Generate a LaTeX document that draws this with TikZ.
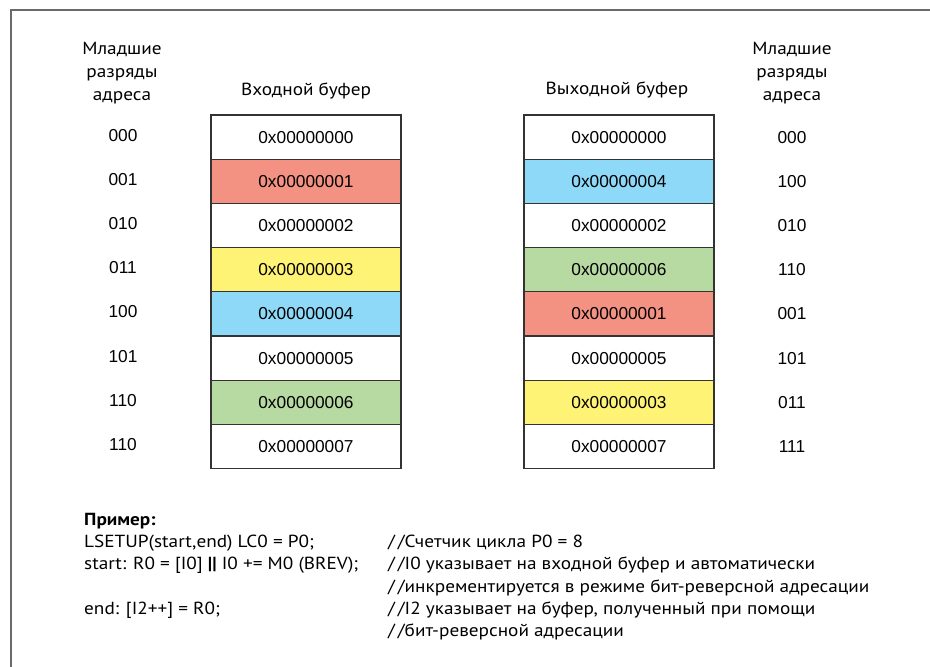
\documentclass[tikz,border=0pt]{standalone}
\usepackage{fontspec}
\setmainfont{Liberation Sans}
\newfontfamily\hdrfont[FakeStretch=1.1]{PT Sans}
\usepackage{tikz}
\usetikzlibrary{positioning}
\usepackage{xcolor}
\definecolor{cRED}{HTML}{F39182}
\definecolor{cYEL}{HTML}{FFF375}
\definecolor{cBLU}{HTML}{8ED8F8}
\definecolor{cGRN}{HTML}{B7DAA2}
\definecolor{cLINE}{HTML}{333333}
\definecolor{cFRAME}{HTML}{6A6A6A}

\begin{document}
\begin{tikzpicture}[x=1pt, y=-1pt,
  cell/.style={draw=cLINE, line width=1.3pt, minimum width=190pt, minimum height=44.2pt, inner sep=0pt, font=\fontsize{17.3}{20}\selectfont},
  addr/.style={font=\fontsize{17.3}{20}\selectfont},
  hdr/.style={font=\hdrfont\fontsize{17.5}{23}\selectfont, align=center},
  code/.style={font=\hdrfont\fontsize{17.5}{22}\selectfont, anchor=base west, inner sep=0pt}
]
\useasboundingbox (0,0) rectangle (930,667);
\draw[cFRAME, line width=2.5pt] (930,10) -- (11,10) -- (11,667);

% headers
\node[hdr] (lhdr) at (122,73) {Младшие\\разряды\\адреса};
\node[hdr] (rhdr) at (792,73) {Младшие\\разряды\\адреса};
\node[hdr] (inbuf) at (306,91) {Входной буфер};
\node[hdr] (outbuf) at (617,90) {Выходной буфер};

% input buffer
\foreach \v/\c [count=\i] in {0/white,1/cRED,2/white,3/cYEL,4/cBLU,5/white,6/cGRN,7/white}
  {\node[cell, fill=\c] (in\i) at (306, 92.9+\i*44.2) {0x0000000\v};}
\foreach \a [count=\i] in {000,001,010,011,100,101,110,110}
  {\node[addr] (la\i) at (123, 90.9+\i*44.2) {\a};}

% output buffer
\foreach \v/\c [count=\i] in {0/white,4/cBLU,2/white,6/cGRN,1/cRED,5/white,3/cYEL,7/white}
  {\node[cell, fill=\c] (out\i) at (619, 92.9+\i*44.2) {0x0000000\v};}
\foreach \a [count=\i] in {000,100,010,110,001,101,011,111}
  {\node[addr] (ra\i) at (792, 92.9+\i*44.2) {\a};}

% example code
\node[code] (ex) at (84,525) {\bfseries Пример:};
\node[code] (c1) at (84,547) {LSETUP(start,end) LC0 = P0;};
\node[code] (c2) at (84,569) {start: R0 = [I0] {\bfseries||} I0 += M0 (BREV);};
\node[code] (c4) at (84,614) {end: [I2++] = R0;};
\node[code] (m1) at (388,547) {/\,/Счетчик цикла P0 = 8};
\node[code] (m2) at (388,569) {/\,/I0 указывает на входной буфер и автоматически};
\node[code] (m3) at (388,592) {/\,/инкрементируется в режиме бит-реверсной адресации};
\node[code] (m4) at (388,614) {/\,/I2 указывает на буфер, полученный при помощи};
\node[code] (m5) at (388,636) {/\,/бит-реверсной адресации};
\end{tikzpicture}
\end{document}
